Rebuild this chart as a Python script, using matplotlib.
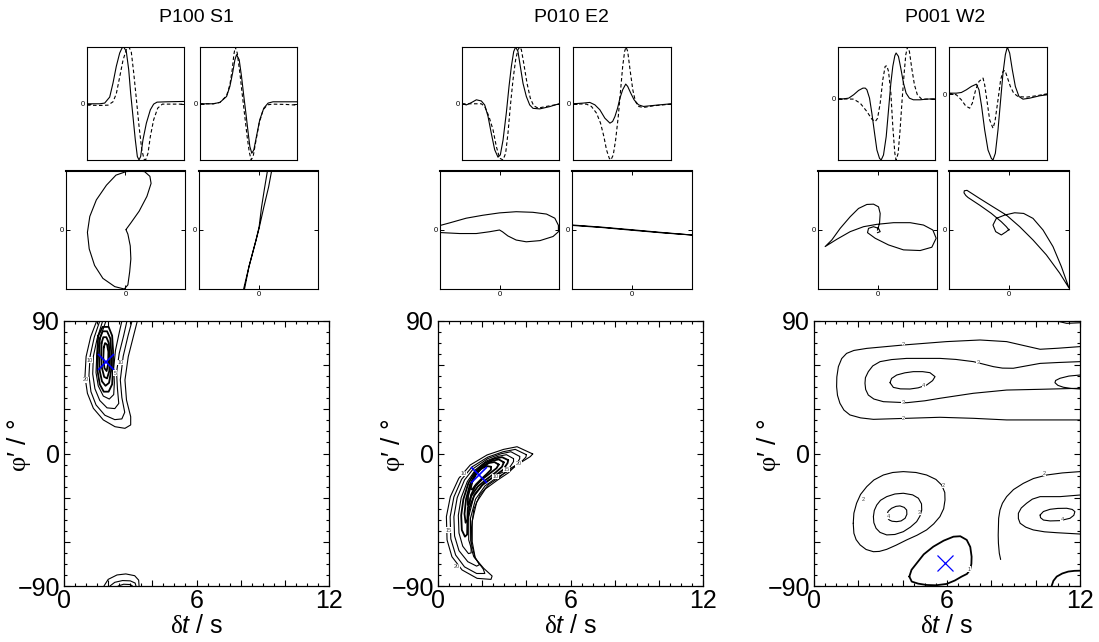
import matplotlib
matplotlib.use("Agg")
import matplotlib.pyplot as plt
from matplotlib.ticker import MultipleLocator, FuncFormatter

plt.rcParams['font.family'] = ['Liberation Sans', 'DejaVu Sans']
plt.rcParams['mathtext.fontset'] = 'custom'
plt.rcParams['mathtext.rm'] = 'Liberation Serif'
plt.rcParams['mathtext.it'] = 'Liberation Sans:italic'

# ---------------- data ----------------
TITLES = ["P100 S1", "P010 E2", "P001 W2"]
DT_TICKLABELS = [0, 6, 12]
PHI_TICKLABELS = [-90, 0, 90]

# waveforms (normalised time, normalised amplitude)
S1_L_SOLID_T = [0, 0.131, 0.182, 0.234, 0.268, 0.302, 0.337, 0.361, 0.378, 0.405, 0.430, 0.450, 0.474, 0.498, 0.519, 0.536, 0.553, 0.577, 0.612, 0.653, 0.687, 0.722, 0.818, 1.0]
S1_L_SOLID_A = [0, 0, 0.012, 0.118, 0.365, 0.659, 0.894, 0.982, 1.0, 0.924, 0.6, 0.188, -0.224, -0.635, -0.929, -0.988, -0.929, -0.635, -0.341, -0.106, -0.006, 0.029, 0.035, 0.041]
S1_L_DASH_T = [0, 0.131, 0.216, 0.268, 0.302, 0.337, 0.371, 0.405, 0.433, 0.457, 0.481, 0.509, 0.536, 0.564, 0.588, 0.605, 0.629, 0.653, 0.687, 0.729, 0.777, 1.0]
S1_L_DASH_A = [-0.024, -0.029, -0.024, 0.035, 0.176, 0.471, 0.765, 0.953, 1.0, 0.906, 0.553, 0.082, -0.388, -0.8, -0.976, -0.988, -0.871, -0.576, -0.282, -0.076, -0.006, -0.006]
S1_R_SOLID_T = [0, 0.137, 0.205, 0.274, 0.308, 0.336, 0.360, 0.377, 0.404, 0.428, 0.452, 0.473, 0.497, 0.514, 0.534, 0.555, 0.582, 0.616, 0.658, 0.702, 0.753, 1.0]
S1_R_SOLID_A = [0, 0, 0.024, 0.129, 0.306, 0.541, 0.776, 0.865, 0.776, 0.482, 0.129, -0.165, -0.518, -0.753, -0.871, -0.812, -0.576, -0.282, -0.076, 0.012, 0.035, 0.035]
S1_R_DASH_T = [0, 0.137, 0.205, 0.274, 0.308, 0.332, 0.349, 0.363, 0.384, 0.411, 0.438, 0.462, 0.486, 0.507, 0.527, 0.548, 0.575, 0.610, 0.651, 0.695, 0.753, 0.890, 1.0]
S1_R_DASH_A = [0, 0, 0.024, 0.141, 0.335, 0.6, 0.865, 1.0, 0.894, 0.541, 0.129, -0.224, -0.576, -0.841, -0.988, -0.929, -0.665, -0.341, -0.106, -0.018, -0.006, -0.012, -0.024]

E2_L_SOLID_T = [0, 0.045, 0.096, 0.148, 0.199, 0.234, 0.268, 0.302, 0.337, 0.371, 0.395, 0.423, 0.457, 0.485, 0.509, 0.533, 0.553, 0.577, 0.601, 0.629, 0.663, 0.698, 0.732, 0.801, 0.904, 1.0]
E2_L_SOLID_A = [0, -0.02, 0.02, 0.07, 0.05, -0.02, -0.22, -0.52, -0.81, -0.94, -0.90, -0.64, -0.16, 0.31, 0.66, 0.92, 1.0, 0.92, 0.66, 0.36, 0.13, -0.02, -0.08, -0.09, -0.05, 0]
E2_L_DASH_T = [0, 0.199, 0.234, 0.278, 0.320, 0.354, 0.388, 0.423, 0.450, 0.474, 0.498, 0.526, 0.553, 0.577, 0.595, 0.612, 0.636, 0.670, 0.704, 0.739, 0.784, 0.869, 1.0]
E2_L_DASH_A = [0, 0, -0.047, -0.224, -0.459, -0.753, -0.959, -0.988, -0.871, -0.518, -0.047, 0.424, 0.776, 0.953, 1.0, 0.953, 0.718, 0.365, 0.100, -0.035, -0.076, -0.047, -0.006]
E2_R_SOLID_T = [0, 0.103, 0.171, 0.223, 0.274, 0.325, 0.377, 0.404, 0.428, 0.455, 0.479, 0.507, 0.538, 0.558, 0.589, 0.623, 0.668, 0.719, 0.788, 0.890, 1.0]
E2_R_SOLID_A = [0, 0.012, 0.024, -0.018, -0.106, -0.253, -0.341, -0.312, -0.224, -0.076, 0.1, 0.247, 0.347, 0.306, 0.188, 0.071, -0.018, -0.047, -0.035, -0.018, 0]
E2_R_DASH_T = [0, 0.137, 0.188, 0.240, 0.281, 0.315, 0.342, 0.370, 0.387, 0.411, 0.435, 0.462, 0.486, 0.507, 0.527, 0.541, 0.558, 0.582, 0.610, 0.637, 0.668, 0.719, 0.822, 1.0]
E2_R_DASH_A = [0, -0.006, -0.047, -0.165, -0.341, -0.576, -0.812, -0.959, -0.988, -0.9, -0.635, -0.224, 0.247, 0.659, 0.924, 1.0, 0.924, 0.6, 0.247, 0.041, -0.047, -0.065, -0.035, -0.006]

W2_L_SOLID_T = [0, 0.058, 0.110, 0.161, 0.212, 0.257, 0.281, 0.298, 0.325, 0.349, 0.377, 0.401, 0.428, 0.445, 0.469, 0.497, 0.521, 0.545, 0.565, 0.586, 0.599, 0.623, 0.647, 0.675, 0.702, 0.736, 0.777, 0.846, 0.914, 1.0]
W2_L_SOLID_A = [0, 0, 0.011, 0.066, 0.137, 0.175, 0.175, 0.148, 0.011, -0.235, -0.563, -0.836, -0.973, -1.0, -0.918, -0.617, -0.180, 0.257, 0.530, 0.705, 0.749, 0.694, 0.503, 0.257, 0.093, 0.011, -0.016, -0.016, -0.005, 0]
W2_L_DASH_T = [0, 0.161, 0.229, 0.298, 0.349, 0.384, 0.408, 0.435, 0.462, 0.486, 0.503, 0.521, 0.545, 0.565, 0.586, 0.599, 0.620, 0.640, 0.661, 0.682, 0.699, 0.716, 0.736, 0.760, 0.788, 0.818, 0.863, 1.0]
W2_L_DASH_A = [0, -0.005, -0.071, -0.208, -0.333, -0.372, -0.317, -0.071, 0.311, 0.530, 0.541, 0.448, 0.093, -0.454, -0.891, -1.0, -0.891, -0.508, -0.016, 0.421, 0.721, 0.847, 0.776, 0.503, 0.230, 0.066, -0.005, -0.005]
W2_R_SOLID_T = [0, 0.075, 0.126, 0.177, 0.228, 0.279, 0.306, 0.333, 0.364, 0.398, 0.432, 0.449, 0.473, 0.500, 0.527, 0.551, 0.575, 0.595, 0.619, 0.646, 0.677, 0.714, 0.755, 0.823, 0.925, 1.0]
W2_R_SOLID_A = [0.015, 0.015, 0.025, 0.066, 0.117, 0.152, 0.066, -0.188, -0.543, -0.848, -0.975, -1.0, -0.898, -0.543, -0.086, 0.32, 0.599, 0.716, 0.624, 0.371, 0.117, -0.036, -0.076, -0.061, -0.025, -0.010]
W2_R_DASH_T = [0, 0.075, 0.126, 0.170, 0.211, 0.238, 0.272, 0.306, 0.347, 0.364, 0.391, 0.415, 0.449, 0.469, 0.500, 0.527, 0.551, 0.571, 0.592, 0.626, 0.660, 0.704, 0.789, 0.891, 1.0]
W2_R_DASH_A = [0.015, -0.010, -0.086, -0.178, -0.213, -0.137, 0.066, 0.193, 0.244, 0.142, -0.137, -0.391, -0.518, -0.416, -0.086, 0.218, 0.345, 0.360, 0.269, 0.117, 0.015, -0.036, -0.046, -0.025, 0.005]

# amplitude limits of the waveform panels (bottom, top)
WAVE_YLIM = [[(-0.99, 1.0), (-0.99, 1.0)], [(-0.99, 1.0), (-0.99, 1.0)], [(-1.0, 0.847), (-1.0, 0.716)]]

# particle motions (normalised x, y)
S1_PM_L = [(0.01, 0.01), (0.09, 0.12), (0.23, 0.32), (0.36, 0.57), (0.43, 0.79), (0.41, 0.91), (0.32, 0.99), (0.17, 1.0), (0.01, 0.99), (-0.16, 0.93), (-0.32, 0.76), (-0.49, 0.51), (-0.60, 0.23), (-0.64, -0.04), (-0.61, -0.32), (-0.52, -0.60), (-0.38, -0.82), (-0.18, -0.96), (-0.02, -1.0), (0.04, -0.93), (0.07, -0.71), (0.09, -0.49), (0.08, -0.27), (0.04, -0.07), (0.01, 0.0)]
S1_PM_R = [(-0.25, -1.0), (-0.16, -0.62), (-0.04, -0.17), (0.01, 0.03), (0.09, 0.39), (0.17, 0.73), (0.22, 1.0), (0.15, 1.0), (0.10, 0.70), (0.05, 0.38), (0.01, 0.05), (-0.05, -0.2), (-0.16, -0.62), (-0.235, -1.0)]
E2_PM_L = [(-1.06, -0.04), (-0.67, -0.06), (-0.39, -0.06), (-0.17, -0.03), (0.0, 0.0), (0.05, -0.03), (0.14, -0.10), (0.28, -0.17), (0.45, -0.20), (0.68, -0.18), (0.90, -0.11), (0.99, -0.03), (0.99, 0.08), (0.93, 0.20), (0.79, 0.27), (0.56, 0.30), (0.28, 0.31), (0.0, 0.29), (-0.28, 0.25), (-0.56, 0.20), (-0.84, 0.12), (-1.06, 0.06)]
E2_PM_R = [(-1.0, 0.085), (-0.5, 0.048), (0.0, 0.004), (0.5, -0.042), (1.0, -0.085), (0.5, -0.048), (0.0, -0.004), (-0.5, 0.042), (-1.0, 0.078)]
W2_PM_L = [(0, 0), (0.034, 0.112), (0.045, 0.281), (0.017, 0.393), (-0.067, 0.438), (-0.179, 0.433), (-0.319, 0.365), (-0.459, 0.225), (-0.627, 0.028), (-0.768, -0.169), (-0.880, -0.281), (-0.683, -0.157), (-0.459, -0.028), (-0.235, 0.056), (-0.011, 0.096), (0.269, 0.124), (0.549, 0.124), (0.773, 0.084), (0.930, 0.0), (0.986, -0.140), (0.913, -0.292), (0.717, -0.348), (0.437, -0.337), (0.185, -0.253), (-0.039, -0.140), (-0.168, -0.045), (-0.151, 0.028), (-0.067, 0.056), (0.017, 0.028), (0.045, -0.028), (0.0, -0.045)]
W2_PM_R = [(0, 0.011), (-0.044, -0.028), (-0.128, -0.084), (-0.222, -0.028), (-0.267, 0.084), (-0.211, 0.197), (-0.072, 0.253), (0.094, 0.292), (0.244, 0.281), (0.4, 0.197), (0.567, 0.0), (0.733, -0.281), (0.872, -0.618), (1.0, -0.983), (0.844, -0.730), (0.622, -0.421), (0.4, -0.169), (0.178, 0.056), (-0.044, 0.253), (-0.267, 0.393), (-0.489, 0.534), (-0.62, 0.62), (-0.70, 0.672), (-0.745, 0.665), (-0.75, 0.63), (-0.72, 0.585), (-0.683, 0.551), (-0.489, 0.421), (-0.294, 0.281), (-0.128, 0.140), (-0.044, 0.056), (0, 0)]

# best-fit splitting parameters (delay time s, fast direction deg)
BEST_DT = [1.9, 1.87, 5.91]
BEST_PHI = [62.4, -14.4, -74.6]

# contour lines of the misfit surfaces, (dt, phi) pairs
S1_CONTOURS = [
    [(1.48, 90), (1.21, 79.4), (1.0, 65.8), (0.95, 52.2), (1.06, 40.9), (1.33, 30.7), (1.78, 22.8), (2.31, 18.2), (2.76, 17.1), (3.02, 19.4), (3.02, 25.0), (2.83, 36.3), (2.76, 49.9), (2.91, 65.8), (3.14, 79.4), (3.32, 90)],
    [(1.62, 90), (1.37, 79), (1.18, 66), (1.13, 53), (1.22, 42), (1.45, 33), (1.85, 26), (2.3, 23), (2.62, 23.5), (2.75, 28), (2.62, 38), (2.55, 50), (2.68, 66), (2.9, 80), (3.08, 90)],
    [(1.75, 90), (1.5, 78), (1.33, 66), (1.3, 54), (1.4, 44), (1.62, 36), (1.95, 31), (2.3, 30.5), (2.48, 34), (2.42, 44), (2.38, 55), (2.5, 68), (2.7, 80), (2.85, 90)],
    [(1.9, 90), (1.62, 78), (1.48, 66), (1.45, 55), (1.55, 46), (1.78, 39), (2.05, 37), (2.25, 40), (2.28, 48), (2.25, 58), (2.33, 70), (2.5, 82), (2.62, 90)],
    [(1.55, 80), (1.5, 68), (1.52, 56), (1.62, 47), (1.8, 42), (2.02, 42), (2.18, 47), (2.22, 58), (2.22, 70), (2.18, 80), (2.02, 86), (1.75, 86), (1.55, 80)],
    [(1.62, 78), (1.58, 67), (1.62, 56), (1.72, 49), (1.88, 46), (2.04, 48), (2.13, 56), (2.14, 68), (2.1, 78), (1.95, 83), (1.75, 83), (1.62, 78)],
    [(1.7, 75), (1.68, 66), (1.72, 58), (1.82, 52), (1.95, 51), (2.05, 56), (2.07, 66), (2.03, 75), (1.92, 79), (1.78, 79), (1.7, 75)],
    [(1.8, 72), (1.78, 65), (1.83, 58), (1.93, 56), (2.0, 61), (2.01, 69), (1.95, 74), (1.86, 75), (1.8, 72)],
    [(1.81, -90), (2.0, -85.5), (2.4, -82.5), (2.8, -81.8), (3.2, -83), (3.38, -86), (3.4, -90)],
    [(2.08, -90), (2.3, -87.5), (2.65, -86.3), (3.0, -86.5), (3.22, -88), (3.26, -90)],
    [(2.45, -90), (2.7, -88.8), (3.0, -89), (3.1, -90)],
]
S1_THICK = [False, False, False, False, True, True, True, True, False, False, False]
S1_LABELS = [("10", 1.18, 63.5), ("10", 2.56, 61.7), ("5", 2.31, 54.5), ("20", 1.0, 50.0)]

E2_CONTOURS = [
    [(4.29, -0.3), (3.58, 4.6), (2.97, 2.8), (2.22, -1.0), (1.46, -7.8), (0.94, -16.9), (0.56, -29.3), (0.38, -42.9), (0.41, -58.7), (0.63, -70.1), (1.09, -79.1), (1.77, -84.8), (2.40, -85.5), (2.45, -83.2), (2.07, -78.0), (1.62, -70.1), (1.39, -58.7), (1.39, -42.9), (1.62, -29.3), (2.07, -20.3), (2.67, -14.6), (3.28, -10.1), (3.88, -4.9), (4.18, -2.1), (4.29, -0.3)],
    [(4.0, -0.8), (3.5, 2.8), (2.95, 1.2), (2.25, -2.5), (1.55, -9), (1.07, -17.5), (0.72, -29.5), (0.55, -43), (0.58, -58), (0.8, -69), (1.2, -77), (1.75, -81.5), (2.12, -81.5), (2.05, -78.5), (1.68, -71), (1.48, -59), (1.47, -44), (1.7, -31), (2.13, -22), (2.7, -16), (3.25, -11.5), (3.75, -6), (3.98, -2.5), (4.0, -0.8)],
    [(3.7, -2), (3.3, 1.2), (2.85, -0.2), (2.25, -3.5), (1.62, -10), (1.2, -18), (0.87, -30), (0.72, -43), (0.75, -56), (0.95, -66), (1.35, -73.5), (1.75, -76.5), (1.88, -75.5), (1.68, -70.5), (1.55, -60), (1.55, -46), (1.75, -33), (2.15, -24), (2.7, -18), (3.2, -13), (3.55, -7.5), (3.7, -3.5), (3.7, -2)],
    [(3.42, -3.5), (3.1, -0.8), (2.7, -2), (2.2, -5), (1.7, -11), (1.33, -19), (1.05, -30), (0.92, -42), (0.95, -54), (1.12, -63), (1.38, -68), (1.5, -67.5), (1.5, -62), (1.52, -50), (1.62, -38), (1.9, -28), (2.3, -21), (2.8, -16), (3.2, -10.5), (3.42, -5.5), (3.42, -3.5)],
    [(3.18, -4.5), (2.9, -2.5), (2.55, -3.5), (2.12, -6.5), (1.7, -12), (1.38, -20), (1.15, -31), (1.05, -42), (1.08, -52), (1.22, -56.5), (1.32, -55), (1.33, -47), (1.42, -37), (1.65, -28), (2.0, -21.5), (2.5, -16), (2.95, -11), (3.15, -6.5), (3.18, -4.5)],
    [(2.98, -6), (2.75, -4), (2.45, -5), (2.08, -8), (1.72, -13), (1.45, -21), (1.27, -31), (1.2, -41), (1.25, -47), (1.33, -45), (1.35, -37), (1.5, -29), (1.8, -22.5), (2.2, -17.5), (2.6, -13), (2.9, -9), (2.98, -6)],
    [(2.75, -7.5), (2.55, -5.8), (2.3, -6.5), (2.0, -9.5), (1.72, -14), (1.5, -21), (1.36, -29), (1.35, -35), (1.42, -34), (1.5, -28), (1.7, -22), (2.0, -17.5), (2.35, -13.5), (2.65, -10), (2.75, -7.5)],
    [(2.4, -9), (2.2, -8.5), (1.95, -10.5), (1.72, -14), (1.55, -19), (1.48, -24), (1.55, -24.5), (1.72, -21), (1.95, -17.5), (2.2, -14), (2.4, -11), (2.4, -9)],
]
E2_THICK = [False, False, False, False, True, True, True, True]
E2_LABELS = [("20", 3.65, -7.0), ("15", 3.1, -11.0), ("10", 2.6, -15.5), ("10", 1.15, -13.5), ("15", 0.5, -52.0), ("20", 0.85, -77.0)]

W2_CONTOURS = [
    [(12.0, 72.6), (11.0, 71.5), (10.2, 70.8), (9.5, 73.2), (8.69, 76.0), (7.49, 77.1), (5.98, 76.0), (4.03, 73.7), (2.38, 71.4), (1.8, 70.0), (1.47, 68.0), (1.25, 64.5), (1.10, 59.0), (1.03, 52.0), (1.02, 45.4), (1.06, 39.5), (1.17, 34.1), (1.35, 29.5), (1.62, 26.2), (2.1, 24.2), (2.68, 23.2), (4.18, 23.9), (5.68, 24.6), (7.19, 23.9), (8.69, 22.8), (12.0, 22.8)],
    [(12.0, 62.4), (11.0, 61.8), (10.2, 61.2), (9.5, 59.3), (8.99, 57.9), (8.5, 58.0), (8.09, 59.0), (7.19, 62.4), (6.4, 63.9), (5.68, 64.6), (4.18, 64.6), (3.5, 63.8), (2.98, 62.4), (2.65, 59.5), (2.45, 55.6), (2.32, 51.5), (2.30, 47.7), (2.33, 43.5), (2.45, 39.7), (2.7, 37.0), (3.13, 35.2), (4.18, 34.5), (5.0, 35.8), (5.68, 37.5), (7.19, 40.9), (8.69, 43.1), (10.2, 43.6), (12.0, 44.3)],
    [(3.43, 48.1), (3.5, 51.0), (3.73, 53.3), (4.1, 54.8), (4.48, 55.6), (4.9, 55.6), (5.23, 54.9), (5.46, 52.2), (5.35, 49.5), (5.08, 46.5), (4.7, 44.6), (4.33, 43.8), (3.9, 43.9), (3.58, 44.9), (3.43, 48.1)],
    [(12.0, 53.3), (11.5, 52.6), (11.1, 51.1), (10.9, 49.6), (10.87, 48.1), (11.0, 46.3), (11.25, 45.0), (11.6, 44.2), (12.0, 43.8)],
    [(10.95, 90), (11.4, 88.4), (12.0, 88.8)],
    [(1.77, -47.4), (1.80, -40.5), (1.92, -33.8), (2.1, -27.8), (2.38, -22.5), (2.7, -18.0), (3.13, -14.6), (3.55, -12.9), (4.03, -12.3), (4.6, -12.9), (5.08, -14.6), (5.5, -17.6), (5.76, -21.4), (5.9, -26.5), (5.91, -31.6), (5.85, -37.5), (5.68, -42.9), (5.4, -47.8), (5.08, -51.9), (4.65, -55.5), (4.18, -58.7), (3.7, -62.3), (3.28, -65.1), (2.95, -66.5), (2.68, -66.7), (2.35, -65.2), (2.08, -62.1), (1.9, -58.5), (1.80, -54.2), (1.77, -47.4)],
    [(2.68, -42.9), (2.72, -38.7), (2.83, -35.0), (3.0, -31.8), (3.28, -29.3), (3.65, -27.5), (4.03, -27.0), (4.45, -28.1), (4.71, -30.4), (4.85, -34.2), (4.86, -38.4), (4.78, -42.5), (4.63, -46.3), (4.35, -50.0), (4.03, -53.1), (3.65, -55.0), (3.28, -55.3), (2.98, -53.6), (2.80, -50.8), (2.70, -47.0), (2.68, -42.9)],
    [(3.28, -41.8), (3.35, -39.2), (3.50, -37.2), (3.7, -35.9), (3.88, -35.6), (4.07, -36.6), (4.18, -38.4), (4.19, -41.3), (4.11, -44.0), (3.93, -45.8), (3.73, -46.3), (3.52, -46.0), (3.40, -45.2), (3.3, -43.6), (3.28, -41.8)],
    [(4.30, -83.6), (4.40, -79.0), (4.63, -74.6), (4.95, -68.5), (5.38, -63.3), (5.85, -59.2), (6.29, -56.5), (6.6, -56.2), (6.89, -58.7), (7.05, -63.5), (7.11, -70.1), (7.1, -75.0), (7.04, -79.1), (6.9, -81.8), (6.66, -83.6), (6.35, -86.3), (5.98, -88.6), (5.5, -89.5), (5.08, -89.3), (4.7, -88.4), (4.41, -87.0), (4.30, -83.6)],
    [(12.0, -12.3), (11.2, -13.2), (10.5, -14.6), (9.9, -17.0), (9.44, -20.3), (9.0, -24.5), (8.69, -29.3), (8.5, -33.8), (8.39, -38.4), (8.33, -44.0), (8.32, -49.7), (8.31, -55.5), (8.32, -61.0), (8.36, -67.8), (8.42, -72.0)],
    [(12.0, -28.2), (11.1, -29.3), (10.2, -29.3), (9.85, -31.0), (9.59, -33.8), (9.35, -37.0), (9.22, -40.6), (9.22, -44.2), (9.3, -47.4), (9.55, -50.0), (9.89, -51.9), (10.4, -53.2), (10.95, -53.8), (12.0, -54.7)],
    [(10.2, -41.8), (10.35, -39.4), (10.65, -37.9), (11.0, -37.3), (11.4, -37.2), (11.65, -38.0), (11.77, -39.5), (11.72, -42.0), (11.55, -44.0), (11.1, -45.6), (10.65, -45.8), (10.35, -45.2), (10.22, -43.6), (10.2, -41.8)],
    [(10.72, -90), (10.8, -86.5), (10.95, -83.6), (11.2, -81.5), (11.47, -80.2), (11.75, -79.7), (12.0, -79.6)],
]
W2_THICK = [False] * 8 + [True] + [False] * 3 + [True]
W2_LABELS = [("2", 4.03, 73.7), ("3", 7.4, 62.0), ("4", 4.95, 46.5), ("3", 4.03, 34.5), ("2", 4.03, 23.5),
             ("2", 2.2, -31.5), ("2", 5.85, -21.4), ("3", 4.75, -40.0), ("4", 3.35, -42.5), ("1", 6.98, -78.5),
             ("2", 10.4, -13.5), ("4", 11.2, -44.5)]

# ---------------- layout (pixels) ----------------
W, H = 1099, 642
ROW1 = [[(87, 47, 184, 160), (200, 47, 297, 160)],
        [(462, 47, 559, 160), (573, 47, 671, 160)],
        [(838, 47, 935, 160), (949, 47, 1047, 160)]]
ROW2 = [[(66, 171, 185, 289), (199, 171, 318, 289)],
        [(440, 171, 559, 289), (572, 171, 692, 289)],
        [(818, 171, 937, 289), (949, 171, 1069, 289)]]
CONT = [(64, 321, 329, 586), (438, 321, 703, 586), (814, 321, 1080, 586)]
TITLE_X = [196, 571, 945]

WAVES = [
    [((S1_L_SOLID_T, S1_L_SOLID_A), (S1_L_DASH_T, S1_L_DASH_A)), ((S1_R_SOLID_T, S1_R_SOLID_A), (S1_R_DASH_T, S1_R_DASH_A))],
    [((E2_L_SOLID_T, E2_L_SOLID_A), (E2_L_DASH_T, E2_L_DASH_A)), ((E2_R_SOLID_T, E2_R_SOLID_A), (E2_R_DASH_T, E2_R_DASH_A))],
    [((W2_L_SOLID_T, W2_L_SOLID_A), (W2_L_DASH_T, W2_L_DASH_A)), ((W2_R_SOLID_T, W2_R_SOLID_A), (W2_R_DASH_T, W2_R_DASH_A))],
]
PMS = [[S1_PM_L, S1_PM_R], [E2_PM_L, E2_PM_R], [W2_PM_L, W2_PM_R]]
CONTOURS = [(S1_CONTOURS, S1_THICK, S1_LABELS), (E2_CONTOURS, E2_THICK, E2_LABELS), (W2_CONTOURS, W2_THICK, W2_LABELS)]

fig = plt.figure(figsize=(W / 100, H / 100), dpi=100)


def add_px_axes(box):
    x0, y0, x1, y1 = box
    return fig.add_axes([x0 / W, 1 - y1 / H, (x1 - x0) / W, (y1 - y0) / H])


def style_small(ax, xzero):
    for s in ax.spines.values():
        s.set_linewidth(0.8)
    ax.set_yticks([0])
    ax.set_yticklabels(['0'])
    if xzero:
        ax.set_xticks([0])
        ax.set_xticklabels(['0'])
        ax.tick_params(axis='x', direction='in', length=3, width=0.7, top=True, labelsize=5.5, pad=1.5)
        ax.spines['top'].set_linewidth(1.5)
    else:
        ax.set_xticks([])
    ax.tick_params(axis='y', direction='in', length=3, width=0.7, right=True, labelsize=5.5, pad=1.5)


def dt_fmt(v, p):
    return f"{v:g}" if abs(v - round(v)) < 1e-6 and round(v) in DT_TICKLABELS else ""


def phi_fmt(v, p):
    return f"{v:g}".replace('-', '\u2212') if abs(v - round(v)) < 1e-6 and round(v) in PHI_TICKLABELS else ""


for c in range(3):
    fig.text(TITLE_X[c] / W, 1 - 18 / H, TITLES[c], ha='center', va='center', fontsize=14)
    # waveforms
    for k in range(2):
        ax = add_px_axes(ROW1[c][k])
        (ts, as_), (td, ad) = WAVES[c][k]
        ax.plot(ts, as_, color='k', lw=0.8)
        ax.plot(td, ad, color='k', lw=0.8, dashes=(3.2, 2.2))
        ax.set_xlim(0, 1)
        ax.set_ylim(*WAVE_YLIM[c][k])
        style_small(ax, False)
    # particle motions
    for k in range(2):
        ax = add_px_axes(ROW2[c][k])
        pts = PMS[c][k]
        ax.plot([p[0] for p in pts], [p[1] for p in pts], color='k', lw=0.8)
        ax.set_xlim(-1, 1)
        ax.set_ylim(-1, 1)
        style_small(ax, True)
    # misfit surface
    ax = add_px_axes(CONT[c])
    lines, thick, labels = CONTOURS[c]
    for ln, th in zip(lines, thick):
        ax.plot([p[0] for p in ln], [p[1] for p in ln], color='k', lw=1.3 if th else 0.8,
                solid_joinstyle='round', solid_capstyle='round')
    for txt, x, y in labels:
        ax.text(x, y, txt, fontsize=4, ha='center', va='center', color='0.25',
                bbox=dict(boxstyle='square,pad=0.05', fc='white', ec='none'))
    ax.plot(BEST_DT[c], BEST_PHI[c], marker='x', color='#0000ff', ms=11, mew=1.2 if c < 2 else 0.9,
            linestyle='none')
    ax.set_xlim(0, 12)
    ax.set_ylim(-90, 90)
    ax.xaxis.set_major_locator(MultipleLocator(2))
    ax.xaxis.set_minor_locator(MultipleLocator(0.5))
    ax.yaxis.set_major_locator(MultipleLocator(30))
    ax.yaxis.set_minor_locator(MultipleLocator(7.5))
    ax.xaxis.set_major_formatter(FuncFormatter(dt_fmt))
    ax.yaxis.set_major_formatter(FuncFormatter(phi_fmt))
    ax.tick_params(which='both', direction='in', top=True, right=True, width=0.8)
    ax.tick_params(which='major', length=4.5, labelsize=18)
    ax.tick_params(which='minor', length=2.2)
    ax.tick_params(axis='x', which='major', pad=2)
    ax.tick_params(axis='y', which='major', pad=3)
    for s in ax.spines.values():
        s.set_linewidth(0.9)
    ax.set_xlabel(r"$\mathrm{δ}\mathit{t}$ / s", fontsize=18, labelpad=1)
    ax.set_ylabel("$\\mathrm{\u03c6}$\u2032 / \u00b0", fontsize=19)
    ax.yaxis.set_label_coords(-0.117, 0.53)

fig.savefig("out.png", dpi=100)
